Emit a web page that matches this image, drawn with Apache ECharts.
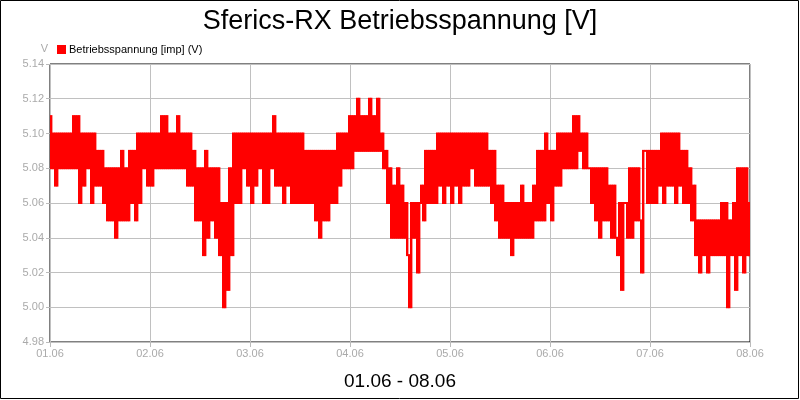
<!DOCTYPE html>
<html>
<head>
<meta charset="utf-8">
<script src="https://cdn.jsdelivr.net/npm/echarts@6/dist/echarts.min.js"></script>
<style>
  html, body { margin: 0; padding: 0; background: #fff; }
  #chart { width: 800px; height: 400px; }
</style>
</head>
<body>
<div id="chart"></div>
<script>
const day1 = [5.11, 5.08, 5.10, 5.07, 5.10, 5.08, 5.10, 5.08, 5.10, 5.08, 5.10, 5.08, 5.11, 5.08, 5.11, 5.06, 5.10, 5.07, 5.10, 5.08,
  5.10, 5.06, 5.10, 5.07, 5.09, 5.07, 5.09, 5.06, 5.08, 5.05, 5.08, 5.05, 5.08, 5.04, 5.08, 5.05, 5.09, 5.05, 5.08, 5.05,
  5.09, 5.06, 5.09, 5.05, 5.10, 5.06, 5.10, 5.08, 5.10, 5.07]
const day2 = [5.10, 5.07, 5.10, 5.08, 5.10, 5.08, 5.11, 5.08, 5.11, 5.08, 5.10, 5.08, 5.10, 5.08, 5.11, 5.08, 5.10, 5.08, 5.10, 5.07,
  5.10, 5.07, 5.09, 5.05, 5.08, 5.05, 5.08, 5.03, 5.09, 5.04, 5.08, 5.05, 5.08, 5.04, 5.08, 5.03, 5.06, 5.00, 5.06, 5.01,
  5.08, 5.03, 5.10, 5.06, 5.10, 5.06, 5.10, 5.08, 5.10, 5.07]
const day3 = [5.10, 5.06, 5.10, 5.07, 5.10, 5.08, 5.10, 5.06, 5.10, 5.06, 5.10, 5.08, 5.11, 5.07, 5.10, 5.07, 5.10, 5.06, 5.10, 5.07,
  5.10, 5.06, 5.10, 5.06, 5.10, 5.06, 5.10, 5.06, 5.09, 5.06, 5.09, 5.06, 5.09, 5.05, 5.09, 5.04, 5.09, 5.05, 5.09, 5.05,
  5.09, 5.06, 5.09, 5.06, 5.10, 5.07, 5.10, 5.08, 5.10, 5.08]
const day4 = [5.11, 5.08, 5.11, 5.09, 5.12, 5.09, 5.11, 5.09, 5.11, 5.09, 5.12, 5.09, 5.11, 5.09, 5.12, 5.09, 5.10, 5.08, 5.09, 5.06,
  5.08, 5.04, 5.07, 5.04, 5.08, 5.04, 5.07, 5.04, 5.06, 5.03, 5.00, 5.06, 5.04, 5.06, 5.02, 5.06, 5.07, 5.05, 5.09, 5.06,
  5.09, 5.06, 5.09, 5.06, 5.10, 5.07, 5.10, 5.06, 5.10, 5.07]
const day5 = [5.10, 5.06, 5.10, 5.07, 5.10, 5.06, 5.10, 5.07, 5.10, 5.07, 5.10, 5.08, 5.10, 5.07, 5.10, 5.07, 5.10, 5.07, 5.10, 5.07,
  5.09, 5.06, 5.09, 5.05, 5.07, 5.04, 5.07, 5.04, 5.06, 5.04, 5.06, 5.03, 5.06, 5.04, 5.06, 5.04, 5.07, 5.04, 5.06, 5.04,
  5.06, 5.04, 5.07, 5.05, 5.09, 5.05, 5.09, 5.05, 5.10, 5.06]
const day6 = [5.09, 5.05, 5.09, 5.07, 5.10, 5.07, 5.10, 5.08, 5.10, 5.08, 5.10, 5.08, 5.11, 5.08, 5.11, 5.09, 5.10, 5.08, 5.10, 5.08,
  5.08, 5.06, 5.08, 5.05, 5.08, 5.04, 5.08, 5.05, 5.08, 5.05, 5.07, 5.04, 5.07, 5.04, 5.03, 5.06, 5.01, 5.06, 5.06, 5.04,
  5.08, 5.04, 5.08, 5.05, 5.08, 5.05, 5.02, 5.09, 5.09, 5.06]
const day7 = [5.09, 5.06, 5.09, 5.06, 5.09, 5.07, 5.10, 5.06, 5.10, 5.07, 5.10, 5.07, 5.10, 5.06, 5.10, 5.07, 5.09, 5.06, 5.09, 5.06,
  5.08, 5.05, 5.07, 5.03, 5.05, 5.02, 5.05, 5.03, 5.05, 5.02, 5.05, 5.03, 5.05, 5.03, 5.05, 5.03, 5.06, 5.03, 5.06, 5.00,
  5.05, 5.03, 5.06, 5.01, 5.08, 5.03, 5.08, 5.02, 5.08, 5.03, 5.06]
const dayLabels = ['01.06', '02.06', '03.06', '04.06', '05.06', '06.06', '07.06', '08.06']
const sampleStep = 0.02 // Tage

const values = [].concat(day1, day2, day3, day4, day5, day6, day7)
// jeweils ein Abschnitt von Messwert i zu Messwert i+1: [t0, t1, min, max]
const segments = []
for (let i = 0; i < values.length - 1; i++) {
  const a = values[i]
  const b = values[i + 1]
  segments.push([i * sampleStep, (i + 1) * sampleStep, Math.min(a, b), Math.max(a, b)])
}

const chart = echarts.init(document.getElementById('chart'))
const option = {
  animation: false,
  backgroundColor: '#fff',
  textStyle: { fontFamily: 'Liberation Sans, Arial, sans-serif' },
  title: {
    text: 'Sferics-RX Betriebsspannung [V]',
    left: 'center',
    top: 3,
    textStyle: { fontSize: 27, fontWeight: 'normal', color: '#000' }
  },
  legend: {
    left: 52,
    top: 39,
    icon: 'rect',
    itemWidth: 9,
    itemHeight: 9,
    itemGap: 4,
    textStyle: { fontSize: 11, color: '#000', padding: [0, 0, 0, -2] },
    data: [{ name: 'Betriebsspannung [imp] (V)', itemStyle: { color: '#ff0000' } }]
  },
  grid: {
    left: 50,
    right: 50,
    top: 64,
    bottom: 58,
    show: true,
    borderColor: '#000',
    borderWidth: 1
  },
  xAxis: {
    type: 'value',
    min: 0,
    max: 7,
    interval: 1,
    name: '01.06 - 08.06',
    nameLocation: 'middle',
    nameGap: 30,
    nameTextStyle: { fontSize: 19, color: '#000' },
    axisLine: { show: false },
    axisTick: { show: true, length: 5, lineStyle: { color: '#bbb' } },
    axisLabel: {
      fontSize: 11,
      color: '#aaa',
      margin: 6,
      formatter: (v) => dayLabels[Math.round(v)]
    },
    splitLine: { show: true, lineStyle: { color: '#c0c0c0', width: 1 } }
  },
  yAxis: {
    type: 'value',
    min: 4.98,
    max: 5.14,
    interval: 0.02,
    name: 'V',
    nameGap: 10,
    nameTextStyle: { fontSize: 11, color: '#aaa', align: 'right', padding: [0, 2, 0, 0] },
    axisLine: { show: false },
    axisTick: { show: true, length: 4, lineStyle: { color: '#bbb' } },
    axisLabel: {
      fontSize: 11,
      color: '#aaa',
      margin: 6,
      formatter: (v) => v.toFixed(2)
    },
    splitLine: { show: true, lineStyle: { color: '#c0c0c0', width: 1 } }
  },
  series: [
    {
      name: 'Betriebsspannung [imp] (V)',
      type: 'custom',
      data: segments,
      encode: { x: [0, 1], y: [2, 3] },
      clip: true,
      renderItem: (params, api) => {
        const p0 = api.coord([api.value(0), api.value(3)])
        const p1 = api.coord([api.value(1), api.value(2)])
        return {
          type: 'rect',
          shape: {
            x: p0[0],
            y: p0[1] - 1,
            width: p1[0] - p0[0] + 0.4,
            height: p1[1] - p0[1] + 2
          },
          style: { fill: '#ff0000' }
        }
      }
    }
  ],
  graphic: [
    {
      type: 'rect',
      shape: { x: 0.5, y: 0.5, width: 798, height: 398 },
      style: { fill: 'none', stroke: '#000', lineWidth: 1 },
      silent: true
    }
  ]
}
chart.setOption(option)
</script>
</body>
</html>
